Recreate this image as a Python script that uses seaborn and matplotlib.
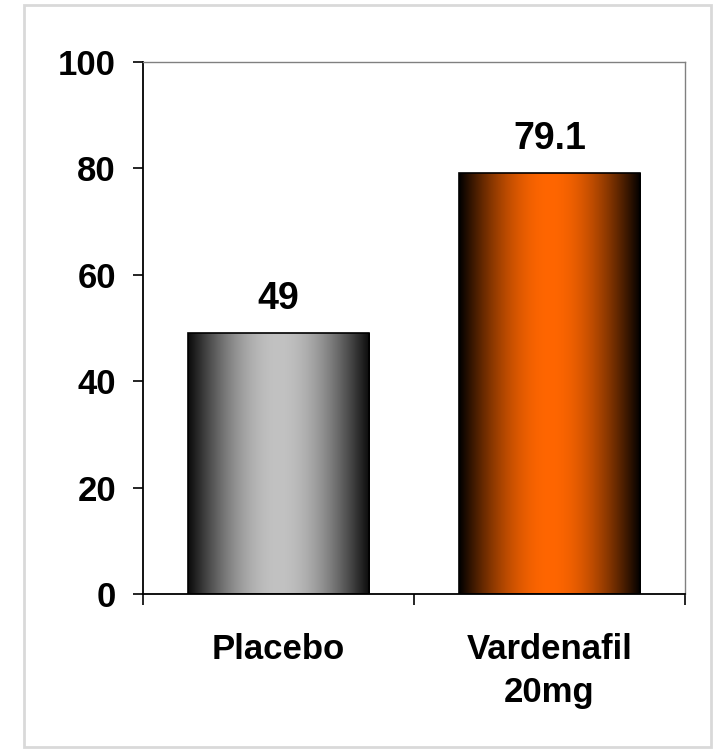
import numpy as np
import pandas as pd
import matplotlib
matplotlib.use("Agg")
import matplotlib.pyplot as plt
from matplotlib.colors import to_rgb
from matplotlib.patches import Rectangle
import seaborn as sns

# Data
groups = ["Placebo", "Vardenafil\n20mg"]
values = [49, 79.1]
value_labels = ["49", "79.1"]
y_ticks = [0, 20, 40, 60, 80, 100]

sns.set_style("white")
plt.rcParams["font.family"] = ["Liberation Sans", "DejaVu Sans"]
plt.rcParams["font.weight"] = "bold"
plt.rcParams["text.color"] = "black"
plt.rcParams["xtick.color"] = "black"
plt.rcParams["ytick.color"] = "black"

fig = plt.figure(figsize=(7.2, 7.49), dpi=100)
ax = fig.add_axes([143 / 720, 1 - 594 / 749, (685 - 143) / 720, (594 - 62) / 749])

df = pd.DataFrame({"group": groups, "value": values})
sns.barplot(data=df, x="group", y="value", ax=ax, width=0.67,
            color="white", edgecolor="black", linewidth=1.2, saturation=1)

# Cylinder-like horizontal shading inside each bar
center_colors = ["#c2c2c2", "#ff6600"]
edge_colors = ["#0a0a0a", "#000000"]
t = np.linspace(0, 1, 400)
shade = np.sin(np.pi * t)
for patch, cc, ec in zip(ax.patches, center_colors, edge_colors):
    c1, c0 = np.array(to_rgb(cc)), np.array(to_rgb(ec))
    rgb = c0[None, :] + (c1 - c0)[None, :] * shade[:, None]
    img = rgb[None, :, :]
    x0, y0 = patch.get_x(), patch.get_y()
    w, h = patch.get_width(), patch.get_height()
    im = ax.imshow(img, aspect="auto", extent=[x0, x0 + w, y0, y0 + h],
                   zorder=patch.get_zorder() - 0.01, interpolation="bilinear")
    im.set_clip_path(patch)
    patch.set_facecolor("none")
    patch.set_zorder(im.get_zorder() + 0.02)

# Value labels above bars
for i, (v, lab) in enumerate(zip(values, value_labels)):
    ax.annotate(lab, (i, v), xytext=(0, 12), textcoords="offset points",
                ha="center", va="bottom", fontsize=27, fontweight="bold",
                color="black")

ax.set_xlim(-0.5, 1.5)
ax.set_ylim(0, 100)
ax.set_yticks(y_ticks)
ax.set_yticklabels([str(t) for t in y_ticks], fontsize=25, fontweight="bold",
                   color="black")

# Category boundary ticks on x, labels centered on the categories
ax.set_xticks([-0.5, 0.5, 1.5])
ax.set_xticklabels(["", "", ""])
ax.set_xticks([0, 1], minor=True)
ax.set_xticklabels(groups, minor=True, fontsize=25, fontweight="bold",
                   color="black", linespacing=1.4)
ax.tick_params(axis="x", which="major", direction="out", length=8, width=1.2,
               color="black", bottom=True)
ax.tick_params(axis="x", which="minor", length=0, pad=28)
ax.tick_params(axis="y", direction="out", length=7.5, width=1.2, color="black",
               left=True, pad=12)

ax.set_xlabel("")
ax.set_ylabel("")

for side in ["left", "bottom"]:
    ax.spines[side].set_color("black")
    ax.spines[side].set_linewidth(1.3)
for side in ["top", "right"]:
    ax.spines[side].set_visible(True)
    ax.spines[side].set_color("#808080")
    ax.spines[side].set_linewidth(1.0)

# Outer frame around the chart
fig.patches.append(Rectangle((24 / 720, 2 / 749), (711 - 24) / 720, (744 - 2) / 749,
                             transform=fig.transFigure, fill=False,
                             edgecolor="#d9d9d9", linewidth=2))

fig.savefig("out.png", dpi=100)
